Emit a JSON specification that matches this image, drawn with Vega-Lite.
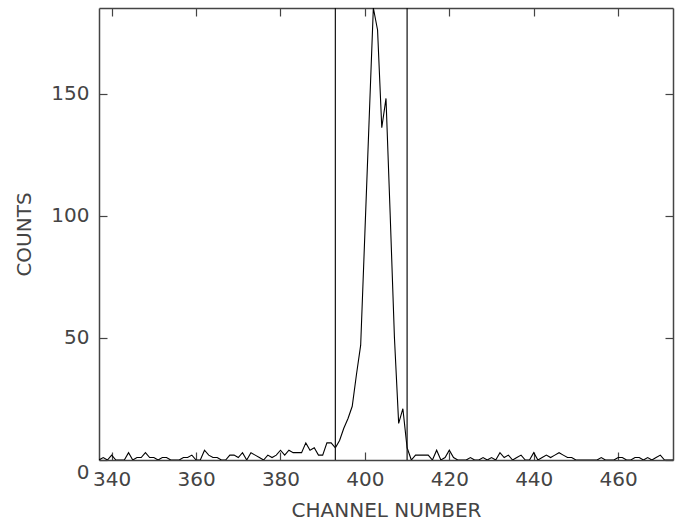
{
  "$schema": "https://vega.github.io/schema/vega-lite/v6.json",
  "width": 574,
  "height": 452,
  "autosize": {"type": "none"},
  "padding": {"left": 99, "top": 8, "right": 6, "bottom": 62},
  "background": "white",
  "config": {
    "view": {"stroke": null},
    "axis": {
      "labelFont": "DejaVu Sans",
      "titleFont": "DejaVu Sans",
      "labelFontSize": 20,
      "titleFontSize": 20,
      "labelFontWeight": "normal",
      "titleFontWeight": "normal",
      "labelColor": "#444",
      "titleColor": "#444",
      "domainColor": "#444",
      "domainWidth": 1.5,
      "tickColor": "#444",
      "tickWidth": 1.2,
      "tickSize": -8,
      "grid": false,
      "labelFlush": false,
      "labelOverlap": false
    }
  },
  "datasets": {
    "counts": [
      {"channel": 337, "counts": 0}, {"channel": 338, "counts": 1}, {"channel": 339, "counts": 0}, {"channel": 340, "counts": 2},
      {"channel": 341, "counts": 0}, {"channel": 342, "counts": 0}, {"channel": 343, "counts": 0}, {"channel": 344, "counts": 3},
      {"channel": 345, "counts": 0}, {"channel": 346, "counts": 1}, {"channel": 347, "counts": 1}, {"channel": 348, "counts": 3},
      {"channel": 349, "counts": 1}, {"channel": 350, "counts": 1}, {"channel": 351, "counts": 0}, {"channel": 352, "counts": 1},
      {"channel": 353, "counts": 1}, {"channel": 354, "counts": 0}, {"channel": 355, "counts": 0}, {"channel": 356, "counts": 0},
      {"channel": 357, "counts": 1}, {"channel": 358, "counts": 1}, {"channel": 359, "counts": 2}, {"channel": 360, "counts": 0},
      {"channel": 361, "counts": 0}, {"channel": 362, "counts": 4}, {"channel": 363, "counts": 2}, {"channel": 364, "counts": 1},
      {"channel": 365, "counts": 1}, {"channel": 366, "counts": 0}, {"channel": 367, "counts": 0}, {"channel": 368, "counts": 2},
      {"channel": 369, "counts": 2}, {"channel": 370, "counts": 1}, {"channel": 371, "counts": 3}, {"channel": 372, "counts": 0},
      {"channel": 373, "counts": 3}, {"channel": 374, "counts": 2}, {"channel": 375, "counts": 1}, {"channel": 376, "counts": 0},
      {"channel": 377, "counts": 2}, {"channel": 378, "counts": 1}, {"channel": 379, "counts": 2}, {"channel": 380, "counts": 4},
      {"channel": 381, "counts": 2}, {"channel": 382, "counts": 4}, {"channel": 383, "counts": 3}, {"channel": 384, "counts": 3},
      {"channel": 385, "counts": 3}, {"channel": 386, "counts": 7}, {"channel": 387, "counts": 4}, {"channel": 388, "counts": 5},
      {"channel": 389, "counts": 2}, {"channel": 390, "counts": 2}, {"channel": 391, "counts": 7}, {"channel": 392, "counts": 7},
      {"channel": 393, "counts": 5}, {"channel": 394, "counts": 8}, {"channel": 395, "counts": 13}, {"channel": 396, "counts": 17},
      {"channel": 397, "counts": 22}, {"channel": 398, "counts": 35}, {"channel": 399, "counts": 47}, {"channel": 400, "counts": 93},
      {"channel": 401, "counts": 139}, {"channel": 402, "counts": 185}, {"channel": 403, "counts": 176}, {"channel": 404, "counts": 136},
      {"channel": 405, "counts": 148}, {"channel": 406, "counts": 100}, {"channel": 407, "counts": 50}, {"channel": 408, "counts": 15},
      {"channel": 409, "counts": 21}, {"channel": 410, "counts": 5}, {"channel": 411, "counts": 0}, {"channel": 412, "counts": 2},
      {"channel": 413, "counts": 2}, {"channel": 414, "counts": 2}, {"channel": 415, "counts": 2}, {"channel": 416, "counts": 0},
      {"channel": 417, "counts": 4}, {"channel": 418, "counts": 0}, {"channel": 419, "counts": 1}, {"channel": 420, "counts": 4},
      {"channel": 421, "counts": 1}, {"channel": 422, "counts": 0}, {"channel": 423, "counts": 0}, {"channel": 424, "counts": 0},
      {"channel": 425, "counts": 1}, {"channel": 426, "counts": 0}, {"channel": 427, "counts": 0}, {"channel": 428, "counts": 1},
      {"channel": 429, "counts": 0}, {"channel": 430, "counts": 1}, {"channel": 431, "counts": 0}, {"channel": 432, "counts": 3},
      {"channel": 433, "counts": 1}, {"channel": 434, "counts": 2}, {"channel": 435, "counts": 0}, {"channel": 436, "counts": 1},
      {"channel": 437, "counts": 2}, {"channel": 438, "counts": 0}, {"channel": 439, "counts": 0}, {"channel": 440, "counts": 3},
      {"channel": 441, "counts": 0}, {"channel": 442, "counts": 1}, {"channel": 443, "counts": 2}, {"channel": 444, "counts": 1},
      {"channel": 445, "counts": 2}, {"channel": 446, "counts": 3}, {"channel": 447, "counts": 2}, {"channel": 448, "counts": 1},
      {"channel": 449, "counts": 1}, {"channel": 450, "counts": 0}, {"channel": 451, "counts": 0}, {"channel": 452, "counts": 0},
      {"channel": 453, "counts": 0}, {"channel": 454, "counts": 0}, {"channel": 455, "counts": 0}, {"channel": 456, "counts": 1},
      {"channel": 457, "counts": 0}, {"channel": 458, "counts": 0}, {"channel": 459, "counts": 0}, {"channel": 460, "counts": 1},
      {"channel": 461, "counts": 1}, {"channel": 462, "counts": 0}, {"channel": 463, "counts": 0}, {"channel": 464, "counts": 1},
      {"channel": 465, "counts": 1}, {"channel": 466, "counts": 0}, {"channel": 467, "counts": 1}, {"channel": 468, "counts": 0},
      {"channel": 469, "counts": 1}, {"channel": 470, "counts": 2}, {"channel": 471, "counts": 0}, {"channel": 472, "counts": 0},
      {"channel": 473, "counts": 0}
    ],
    "limits": [{"channel": 393}, {"channel": 410}]
  },
  "layer": [
    {
      "data": {"name": "counts"},
      "mark": {"type": "line", "color": "black", "strokeWidth": 1.1, "clip": true},
      "encoding": {
        "x": {
          "field": "channel", "type": "quantitative",
          "scale": {"domain": [337, 473], "nice": false, "zero": false},
          "axis": {"orient": "bottom", "title": "CHANNEL NUMBER", "values": [340, 360, 380, 400, 420, 440, 460], "labelPadding": 17, "titlePadding": 11}
        },
        "y": {
          "field": "counts", "type": "quantitative",
          "scale": {"domain": [0, 185], "nice": false},
          "axis": {"orient": "left", "title": "COUNTS", "values": [0, 50, 100, 150], "labelPadding": 18, "titlePadding": 16,
                   "labelOffset": {"condition": {"test": "datum.value === 0", "value": 12}, "value": 0}}
        }
      }
    },
    {
      "data": {"name": "limits"},
      "mark": {"type": "rule", "color": "#111", "strokeWidth": 1.2},
      "encoding": {
        "x": {
          "field": "channel", "type": "quantitative",
          "axis": {"orient": "top", "title": null, "labels": false, "values": [340, 360, 380, 400, 420, 440, 460]}
        }
      }
    },
    {
      "data": {"name": "counts"},
      "mark": {"type": "line", "strokeOpacity": 0},
      "encoding": {
        "x": {"field": "channel", "type": "quantitative", "axis": null},
        "y": {
          "field": "counts", "type": "quantitative",
          "axis": {"orient": "right", "title": null, "labels": false, "values": [0, 50, 100, 150]}
        }
      }
    }
  ],
  "resolve": {"axis": {"x": "independent", "y": "independent"}}
}
